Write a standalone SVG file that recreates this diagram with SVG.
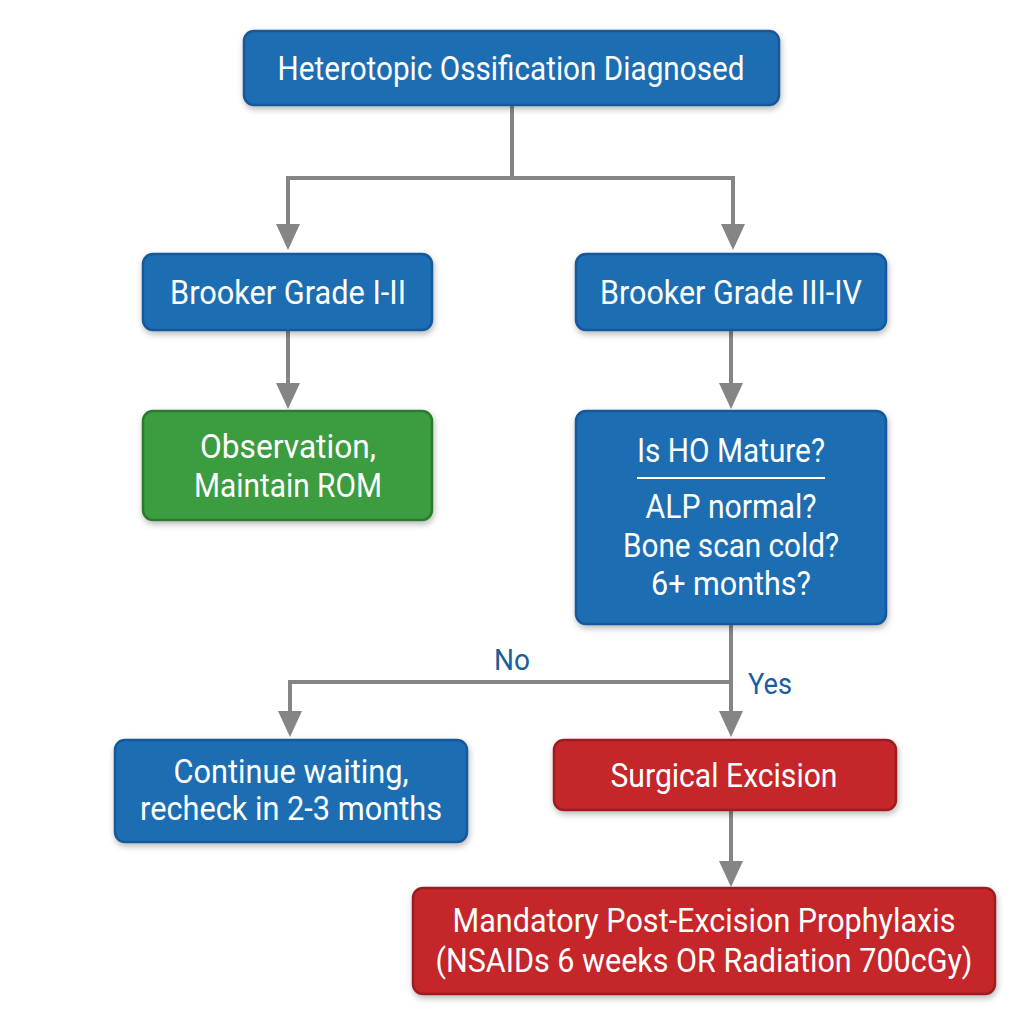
<svg xmlns="http://www.w3.org/2000/svg" width="1024" height="1024" viewBox="0 0 1024 1024">
<style>
.blue{fill:#1c6db2;stroke:#17589a;stroke-width:2.5}
.green{fill:#3b9c41;stroke:#2c7a31;stroke-width:2.5}
.red{fill:#c4272c;stroke:#9c1d22;stroke-width:2.5}
.t{font-family:Roboto,"Liberation Sans",sans-serif;font-size:33px;fill:#ffffff;text-anchor:middle}
.lbl{font-family:Roboto,"Liberation Sans",sans-serif;font-size:29px;fill:#1b5e9d;text-anchor:middle}
.c{fill:none;stroke:#858585;stroke-width:4}
</style>
<defs>
<filter id="sh" x="-10%" y="-10%" width="120%" height="130%">
<feDropShadow dx="1" dy="3" stdDeviation="3" flood-color="#000" flood-opacity="0.28"/>
</filter>
<marker id="ah" viewBox="0 0 26 26" refX="22" refY="13" markerWidth="26" markerHeight="26" markerUnits="userSpaceOnUse" orient="auto">
<path d="M0,1 L26,13 L0,25 z" fill="#858585"/>
</marker>
</defs>
<rect width="1024" height="1024" fill="#ffffff"/>
<g id="connectors">
<path class="c" d="M512,105 V178 M286,178 H735"/>
<path class="c" d="M288,178 V246" marker-end="url(#ah)"/>
<path class="c" d="M733,178 V246" marker-end="url(#ah)"/>
<path class="c" d="M288,330 V405" marker-end="url(#ah)"/>
<path class="c" d="M731,330 V405" marker-end="url(#ah)"/>
<path class="c" d="M731,625 V733" marker-end="url(#ah)"/>
<path class="c" d="M731,682 H290 V733" marker-end="url(#ah)"/>
<path class="c" d="M731,810 V883" marker-end="url(#ah)"/>
<text class="lbl" x="512" y="670" textLength="36" lengthAdjust="spacingAndGlyphs">No</text>
<text class="lbl" x="770" y="694" textLength="44" lengthAdjust="spacingAndGlyphs">Yes</text>
</g>
<g id="n_diagnosed">
<rect class="blue" x="244" y="31" width="535" height="74" rx="10" filter="url(#sh)"/>
<text class="t" x="511" y="80" textLength="467" lengthAdjust="spacingAndGlyphs">Heterotopic Ossification Diagnosed</text>
</g>
<g id="n_grade12">
<rect class="blue" x="143" y="254" width="289" height="76" rx="10" filter="url(#sh)"/>
<text class="t" x="288" y="304" textLength="236" lengthAdjust="spacingAndGlyphs">Brooker Grade I-II</text>
</g>
<g id="n_grade34">
<rect class="blue" x="576" y="254" width="310" height="76" rx="10" filter="url(#sh)"/>
<text class="t" x="731" y="304" textLength="262" lengthAdjust="spacingAndGlyphs">Brooker Grade III-IV</text>
</g>
<g id="n_observation">
<rect class="green" x="143" y="411" width="289" height="109" rx="10" filter="url(#sh)"/>
<text class="t" x="288" y="458" textLength="176" lengthAdjust="spacingAndGlyphs">Observation,</text>
<text class="t" x="288" y="497" textLength="188" lengthAdjust="spacingAndGlyphs">Maintain ROM</text>
</g>
<g id="n_mature">
<rect class="blue" x="576" y="411" width="310" height="213" rx="10" filter="url(#sh)"/>
<text class="t" x="731" y="462" textLength="188" lengthAdjust="spacingAndGlyphs">Is HO Mature?</text>
<line x1="637" y1="478" x2="825" y2="478" stroke="#ffffff" stroke-width="2"/>
<text class="t" x="731" y="518" textLength="171" lengthAdjust="spacingAndGlyphs">ALP normal?</text>
<text class="t" x="731" y="557" textLength="216" lengthAdjust="spacingAndGlyphs">Bone scan cold?</text>
<text class="t" x="731" y="595" textLength="160" lengthAdjust="spacingAndGlyphs">6+ months?</text>
</g>
<g id="n_wait">
<rect class="blue" x="115" y="740" width="352" height="102" rx="10" filter="url(#sh)"/>
<text class="t" x="291" y="783" textLength="235" lengthAdjust="spacingAndGlyphs">Continue waiting,</text>
<text class="t" x="291" y="820" textLength="302" lengthAdjust="spacingAndGlyphs">recheck in 2-3 months</text>
</g>
<g id="n_surgery">
<rect class="red" x="554" y="740" width="342" height="70" rx="10" filter="url(#sh)"/>
<text class="t" x="724" y="787" textLength="227" lengthAdjust="spacingAndGlyphs">Surgical Excision</text>
</g>
<g id="n_prophylaxis">
<rect class="red" x="413" y="888" width="582" height="106" rx="10" filter="url(#sh)"/>
<text class="t" x="704" y="932" textLength="503" lengthAdjust="spacingAndGlyphs">Mandatory Post-Excision Prophylaxis</text>
<text class="t" x="704" y="972" textLength="537" lengthAdjust="spacingAndGlyphs">(NSAIDs 6 weeks OR Radiation 700cGy)</text>
</g>
</svg>
